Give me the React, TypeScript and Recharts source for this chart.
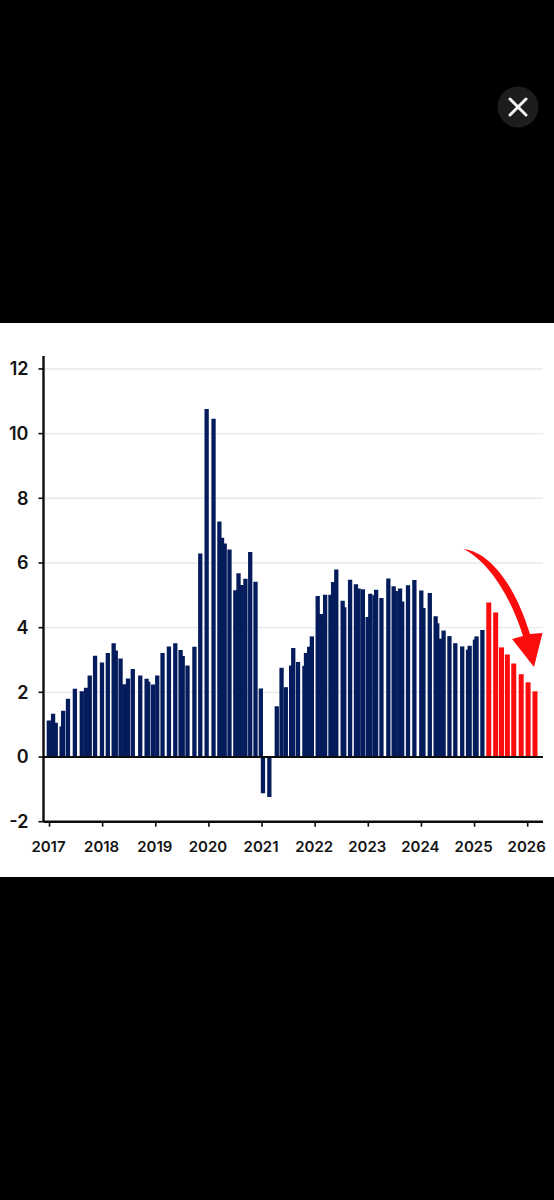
import React from "react";
import { BarChart, Bar, Rectangle, XAxis, YAxis, CartesianGrid, ReferenceLine } from "recharts";

const barYears = [
  2016.99, 2017.07, 2017.12, 2017.23, 2017.26, 2017.35, 2017.48, 2017.61, 2017.69, 2017.76, 2017.86, 2017.99,
  2018.1, 2018.21, 2018.25, 2018.34, 2018.41, 2018.48, 2018.57, 2018.71, 2018.83, 2018.86, 2018.95,
  2019.03, 2019.13, 2019.25, 2019.37, 2019.47, 2019.51, 2019.6, 2019.73, 2019.84, 2019.96,
  2020.09, 2020.2, 2020.25, 2020.3, 2020.39, 2020.5, 2020.56, 2020.62, 2020.69, 2020.78, 2020.88, 2020.98,
  2021.02, 2021.14, 2021.28, 2021.37, 2021.45, 2021.55, 2021.59, 2021.68, 2021.8, 2021.83, 2021.89, 2021.94,
  2022.05, 2022.11, 2022.19, 2022.29, 2022.34, 2022.4, 2022.52, 2022.55, 2022.66, 2022.77, 2022.82, 2022.9, 2022.99,
  2023.04, 2023.12, 2023.15, 2023.25, 2023.38, 2023.48, 2023.52, 2023.6, 2023.64, 2023.75, 2023.87,
  2024.0, 2024.04, 2024.16, 2024.27, 2024.3, 2024.37, 2024.42, 2024.53, 2024.64, 2024.77, 2024.88, 2024.91,
  2025.01, 2025.04, 2025.15,
];
const barValues = [
  1.13, 1.34, 1.06, 0.94, 1.43, 1.8, 2.11, 2.03, 2.14, 2.52, 3.13, 2.92,
  3.22, 3.52, 3.29, 3.05, 2.25, 2.43, 2.72, 2.52, 2.42, 2.33, 2.24,
  2.52, 3.22, 3.42, 3.52, 3.31, 3.12, 2.83, 3.41, 6.29, 10.76,
  10.46, 7.28, 6.78, 6.6, 6.42, 5.16, 5.68, 5.32, 5.51, 6.34, 5.42, 2.12,
  -1.12, -1.24, 1.57, 2.76, 2.16, 2.83, 3.37, 2.94, 2.82, 3.22, 3.41, 3.73,
  4.98, 4.42, 5.02, 5.02, 5.41, 5.8, 4.83, 4.63, 5.48, 5.34, 5.21, 5.19, 4.33,
  5.05, 5.0, 5.17, 4.92, 5.52, 5.28, 5.13, 5.21, 4.81, 5.31, 5.47,
  5.15, 4.61, 5.07, 4.35, 4.14, 3.66, 3.91, 3.74, 3.52, 3.42, 3.32, 3.44,
  3.63, 3.73, 3.93,
];
const forecastYears = [2025.27, 2025.4, 2025.51, 2025.62, 2025.74, 2025.88, 2026.01, 2026.14];
const forecastValues = [4.78, 4.47, 3.39, 3.17, 2.89, 2.56, 2.31, 2.03];
const xTicks = [2017, 2018, 2019, 2020, 2021, 2022, 2023, 2024, 2025, 2026];
const yTicks = [-2, 0, 2, 4, 6, 8, 10, 12];

const NAVY = "#051c5c";
const RED = "#fb0d0d";
const FONT = "Inter, 'Noto Sans', sans-serif";
const BAR_WIDTH = 4.3;

const rows = [
  ...barYears.map((year, i) => ({ year, value: barValues[i], forecast: false })),
  ...forecastYears.map((year, i) => ({ year, value: forecastValues[i], forecast: true })),
];

// The bars sit on a continuous time axis, so the library's band is very narrow:
// keep its centre and height, and give every bar the same readable width.
const renderBar = (p: any) => (
  <Rectangle
    x={p.x + p.width / 2 - (p.payload.forecast ? 5 : BAR_WIDTH) / 2}
    y={p.y}
    width={p.payload.forecast ? 5 : BAR_WIDTH}
    height={p.height}
    fill={p.payload.forecast ? RED : NAVY}
  />
);

export default function App() {
  return (
    <div style={{ position: "absolute", left: 0, top: 0, width: 554, height: 1200, background: "#000", overflow: "hidden" }}>
      <svg width={554} height={1200} style={{ position: "absolute", left: 0, top: 0 }}>
        <circle cx={518} cy={107} r={20.5} fill="#1d1d1d" />
        <path d="M510 99 L526 115 M526 99 L510 115" stroke="#f4f4f4" strokeWidth={3} strokeLinecap="round" />
      </svg>
      <div style={{ position: "absolute", left: 0, top: 323, width: 554, height: 554, background: "#fff" }}>
        <BarChart
          width={554}
          height={554}
          data={rows}
          margin={{ top: 33, right: 11, bottom: 0, left: 0 }}
        >
          <CartesianGrid horizontal vertical={false} stroke="#e6e8eb" strokeWidth={1.4} horizontalValues={yTicks} />
          <XAxis
            dataKey="year"
            type="number"
            domain={[2016.887, 2026.288]}
            ticks={xTicks}
            allowDataOverflow
            interval={0}
            height={55.3}
            axisLine={{ stroke: "#0c0c0c", strokeWidth: 2.4 }}
            tickLine={{ stroke: "#0c0c0c", strokeWidth: 1.6 }}
            tickSize={5}
            tickMargin={15}
            tick={{ fill: "#141414", fontSize: 15, fontWeight: 600, fontFamily: FONT, dx: -1 }}
          />
          <YAxis
            type="number"
            domain={[-2, 12.4]}
            ticks={yTicks}
            allowDataOverflow
            interval={0}
            width={43.5}
            axisLine={{ stroke: "#0c0c0c", strokeWidth: 2.4 }}
            tickLine={{ stroke: "#0c0c0c", strokeWidth: 1.6 }}
            tickSize={5}
            tickMargin={10}
            tick={{ fill: "#141414", fontSize: 18, fontWeight: 600, fontFamily: FONT }}
          />
          <Bar dataKey="value" isAnimationActive={false} shape={renderBar} />
          <ReferenceLine y={0} stroke="#0c0c0c" strokeWidth={2.2} />
        </BarChart>
      </div>
      <svg width={554} height={1200} style={{ position: "absolute", left: 0, top: 0, pointerEvents: "none" }}>
        <path
          d="M463.5 549 C490 552 515 585 530 634 L542.5 633 L534 667 L512 639 L523 636 C512 600 490 562 463.5 549 Z"
          fill={RED}
        />
      </svg>
    </div>
  );
}
